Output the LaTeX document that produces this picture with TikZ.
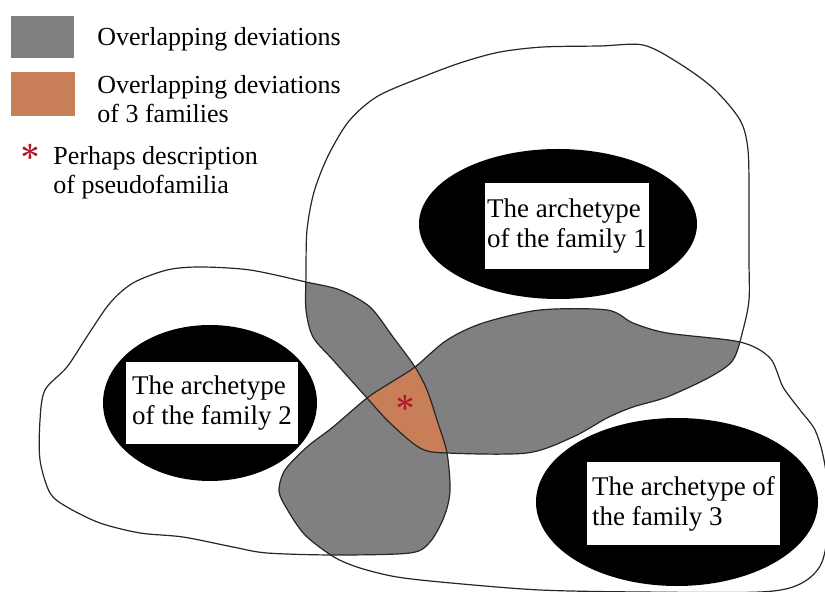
\documentclass[tikz,border=0pt]{standalone}
\usepackage{fontspec}
\setmainfont{Liberation Serif}
\usepackage{tikz}
\usetikzlibrary{shapes.geometric}

\definecolor{devgray}{RGB}{128,128,128}
\definecolor{triorange}{RGB}{200,127,87}
\definecolor{pseudored}{RGB}{178,24,44}

% Outlines of the three families (pixel units, y running downwards)
\newcommand{\famone}{plot[smooth cycle, tension=0.5] coordinates {
  (425,76) (463,62) (500,52) (543,47) (600,46) (643,45) (677,62) (713,88)
  (740,120) (748,150) (749,203) (749,260) (749,300) (743,330) (733,360)
  (710,377) (667,397) (633,407) (607,418) (573,437) (527,453) (447,453)
  (420,448) (390,423) (367,398) (333,360) (313,337) (306,310) (306,274)
  (307,230) (314,192) (328,156) (349,121) (378,96)}}
\newcommand{\famtwo}{plot[smooth cycle, tension=0.5] coordinates {
  (40,420) (45,390) (67,367) (88,335) (110,303) (133,283) (167,270)
  (200,267) (250,270) (306,282) (340,290) (370,307) (393,337) (415,367)
  (427,390) (437,420) (447,453) (450,491) (444,517) (430,542) (410,553)
  (335,555) (267,553) (233,547) (183,537) (140,533) (100,523) (67,507)
  (50,493) (40,460)}}
\newcommand{\famthree}{plot[smooth cycle, tension=0.5] coordinates {
  (334,557) (305,535) (287,509) (279,491) (285,470) (307,447) (333,427)
  (367,398) (390,383) (415,367) (447,340) (483,323) (540,310) (607,310)
  (633,323) (667,333) (740,342) (770,358) (783,387) (800,410) (815,430)
  (824,460) (830,510) (822,562) (800,584) (760,592) (640,592) (540,590)
  (451,583) (397,577) (360,568)}}

\begin{document}
\begin{tikzpicture}[x=0.5pt, y=-0.5pt,
  famline/.style={line width=0.6pt, black!85},
  archblob/.style={ellipse, fill=black, inner sep=0pt},
  archlabel/.style={fill=white, inner xsep=1pt, inner ysep=0pt, align=left,
    font=\fontsize{13.5}{15}\selectfont},
  legendtext/.style={anchor=north west, inner sep=0pt, align=left,
    font=\fontsize{13}{14.5}\selectfont},
  starmark/.style={text=pseudored, inner sep=0pt, font=\fontsize{16}{16}\selectfont\boldmath}]
  \useasboundingbox (0,0) rectangle (825,592);

  % Legend
  \fill[devgray] (11,16) rectangle (74,58);
  \node[legendtext] (leggray) at (97,27) {Overlapping deviations};
  \fill[triorange] (11,72) rectangle (75,116);
  \node[legendtext] (legorange) at (97,75) {Overlapping deviations\\of 3 families};
  \node[starmark] (legstar) at (30,152) {$\ast$};
  \node[legendtext] (legpseudo) at (53,146) {Perhaps description\\of pseudofamilia};

  % Overlaps of two families
  \begin{scope}
    \clip \famone;
    \fill[devgray] \famtwo;
    \fill[devgray] \famthree;
  \end{scope}
  \begin{scope}
    \clip \famtwo;
    \fill[devgray] \famthree;
  \end{scope}
  % Overlap of all three
  \begin{scope}
    \clip \famone;
    \clip \famtwo;
    \fill[triorange] \famthree;
  \end{scope}

  % Family outlines
  \draw[famline] \famone;
  \draw[famline] \famtwo;
  \draw[famline] \famthree;

  % Archetypes
  \node[archblob, minimum width=139pt, minimum height=75pt] (arch1) at (558,224) {};
  \node[archblob, minimum width=107pt, minimum height=78pt] (arch2) at (210,403) {};
  \node[archblob, minimum width=141pt, minimum height=84pt] (arch3) at (677,502) {};
  \node[archlabel, minimum width=80pt, minimum height=43pt] (lab1) at (567,226)
    {The archetype\\of the family 1};
  \node[archlabel, minimum width=86pt, minimum height=41pt] (lab2) at (212,403)
    {The archetype\\of the family 2};
  \node[archlabel, minimum width=96.5pt, minimum height=41.5pt] (lab3) at (683.5,503.5)
    {The archetype of\\the family 3};

  % Pseudofamily
  \node[starmark] (pseudo) at (405,403) {$\ast$};
\end{tikzpicture}
\end{document}
